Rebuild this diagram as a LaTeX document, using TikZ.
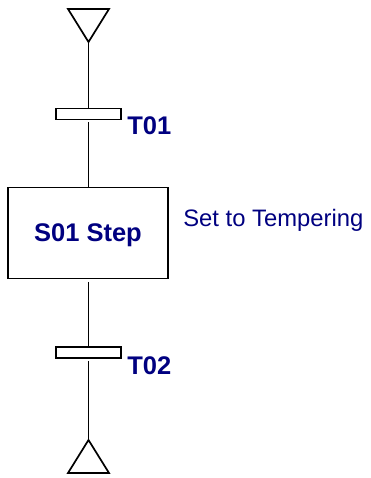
\documentclass[tikz,border=0pt]{standalone}
\usepackage{fontspec}
\setmainfont{Liberation Sans}
\usepackage{xcolor}
\usepackage{tikz}
\usetikzlibrary{positioning,calc}
\definecolor{sfcnavy}{HTML}{000080}

\begin{document}
\begin{tikzpicture}[x=1pt, y=-1pt, line width=1.7pt,
  trans/.style={draw, fill=white, rectangle, minimum width=65.6pt, minimum height=11pt, inner sep=0pt},
  stepbox/.style={draw, rectangle, minimum width=159.6pt, minimum height=91pt, inner sep=0pt,
    text=sfcnavy, font=\fontsize{25.5}{30}\selectfont\bfseries, text depth=0pt},
  tlabel/.style={text=sfcnavy, font=\fontsize{25.5}{30}\selectfont\bfseries, inner sep=0pt, anchor=base west},
  action/.style={text=sfcnavy, font=\fontsize{23.8}{28}\selectfont, inner sep=0pt, anchor=base west}]
\useasboundingbox (0,0) rectangle (371,478);
% initial and final triangles
\draw (68,9) -- (109,9) -- (88.5,42) -- cycle;
\coordinate (in) at (88.5,42);
\draw (68,473) -- (109,473) -- (88.5,440) -- cycle;
\coordinate (out) at (88.5,440);
% transitions and step
\node[trans] (T01) at (88.5,114) {};
\node[stepbox] (S01) at (88,233) {S01 Step};
\node[trans] (T02) at (88.5,352.5) {};
\node[tlabel] (T01lbl) at (126.5,135) {T01};
\node[tlabel] (T02lbl) at (126.5,374) {T02};
\node[action] (S01act) at (182.5,226.7) {Set to Tempering};
% links
\draw (in) -- (T01.north);
\draw[shorten <=2pt] (T01.south) -- (T01.south |- S01.north);
\draw[shorten <=2.5pt] (T02.north |- S01.south) -- (T02.north);
\draw[shorten <=2pt] (T02.south) -- (out);
\end{tikzpicture}
\end{document}
